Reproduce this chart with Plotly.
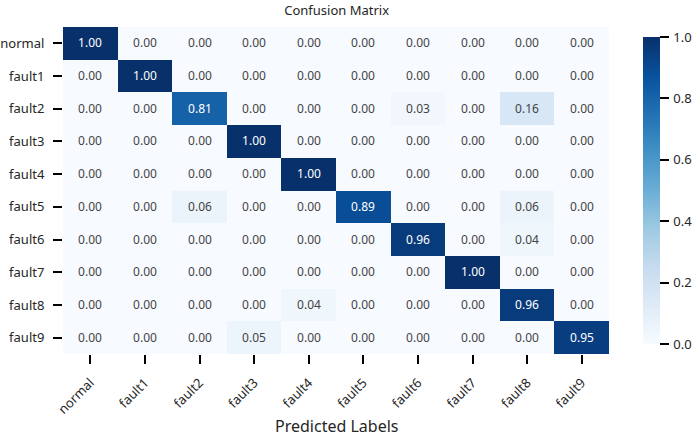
import plotly.graph_objects as go

labels = ["normal", "fault1", "fault2", "fault3", "fault4", "fault5", "fault6", "fault7", "fault8", "fault9"]
row_normal = [1.00, 0.00, 0.00, 0.00, 0.00, 0.00, 0.00, 0.00, 0.00, 0.00]
row_fault1 = [0.00, 1.00, 0.00, 0.00, 0.00, 0.00, 0.00, 0.00, 0.00, 0.00]
row_fault2 = [0.00, 0.00, 0.81, 0.00, 0.00, 0.00, 0.03, 0.00, 0.16, 0.00]
row_fault3 = [0.00, 0.00, 0.00, 1.00, 0.00, 0.00, 0.00, 0.00, 0.00, 0.00]
row_fault4 = [0.00, 0.00, 0.00, 0.00, 1.00, 0.00, 0.00, 0.00, 0.00, 0.00]
row_fault5 = [0.00, 0.00, 0.06, 0.00, 0.00, 0.89, 0.00, 0.00, 0.06, 0.00]
row_fault6 = [0.00, 0.00, 0.00, 0.00, 0.00, 0.00, 0.96, 0.00, 0.04, 0.00]
row_fault7 = [0.00, 0.00, 0.00, 0.00, 0.00, 0.00, 0.00, 1.00, 0.00, 0.00]
row_fault8 = [0.00, 0.00, 0.00, 0.00, 0.04, 0.00, 0.00, 0.00, 0.96, 0.00]
row_fault9 = [0.00, 0.00, 0.00, 0.05, 0.00, 0.00, 0.00, 0.00, 0.00, 0.95]

z = [row_normal, row_fault1, row_fault2, row_fault3, row_fault4,
     row_fault5, row_fault6, row_fault7, row_fault8, row_fault9]

cbar_vals = [0, 0.2, 0.4, 0.6, 0.8, 1.0]
cbar_text = ["0.0", "0.2", "0.4", "0.6", "0.8", "1.0"]

blues = ["rgb(247,251,255)", "rgb(222,235,247)", "rgb(198,219,239)", "rgb(158,202,225)",
         "rgb(107,174,214)", "rgb(66,146,198)", "rgb(33,113,181)", "rgb(8,81,156)", "rgb(8,48,107)"]
cscale = [[i / (len(blues) - 1), c] for i, c in enumerate(blues)]

FONT = "Noto Sans, Open Sans, sans-serif"
TXT = "#262626"

fig = go.Figure(go.Heatmap(
    z=z, x=labels, y=labels,
    colorscale=cscale, zmin=0, zmax=1,
    texttemplate="%{z:.2f}",
    textfont=dict(size=12, family=FONT),
    xgap=0, ygap=0,
    colorbar=dict(
        x=1.062, xanchor="left", xpad=0, y=0.5, yanchor="middle", len=1, lenmode="fraction",
        thickness=17, outlinewidth=0,
        tickmode="array", tickvals=cbar_vals,
        ticktext=["\u2009" + t for t in cbar_text],
        ticks="outside", ticklen=9, tickwidth=2, tickcolor="black",
        tickfont=dict(size=13, family=FONT, color=TXT),
    ),
))

fig.update_layout(
    width=697, height=438,
    margin=dict(l=63, r=88, t=27, b=84, autoexpand=False),
    paper_bgcolor="white", plot_bgcolor="white",
    font=dict(family=FONT, color=TXT),
    title=dict(text="Confusion Matrix", x=0.483, xanchor="center", y=0.977, yanchor="middle",
               font=dict(size=13, family=FONT, color=TXT)),
    xaxis=dict(
        tickangle=-45, ticks="outside", ticklen=9, tickwidth=2, tickcolor="black",
        ticklabelstandoff=6, automargin=False,
        showgrid=False, zeroline=False, showline=False,
        tickfont=dict(size=13, family=FONT, color=TXT),
    ),
    yaxis=dict(
        autorange="reversed", ticks="outside", ticklen=9, tickwidth=2, tickcolor="black",
        ticklabelstandoff=6, automargin=False,
        showgrid=False, zeroline=False, showline=False,
        tickfont=dict(size=13, family=FONT, color=TXT),
    ),
    annotations=[dict(text="Predicted Labels", xref="paper", yref="paper", x=0.5, y=-0.22,
                      xanchor="center", yanchor="middle", showarrow=False,
                      font=dict(size=16, family=FONT, color=TXT))],
)

fig.write_html("out.html")
